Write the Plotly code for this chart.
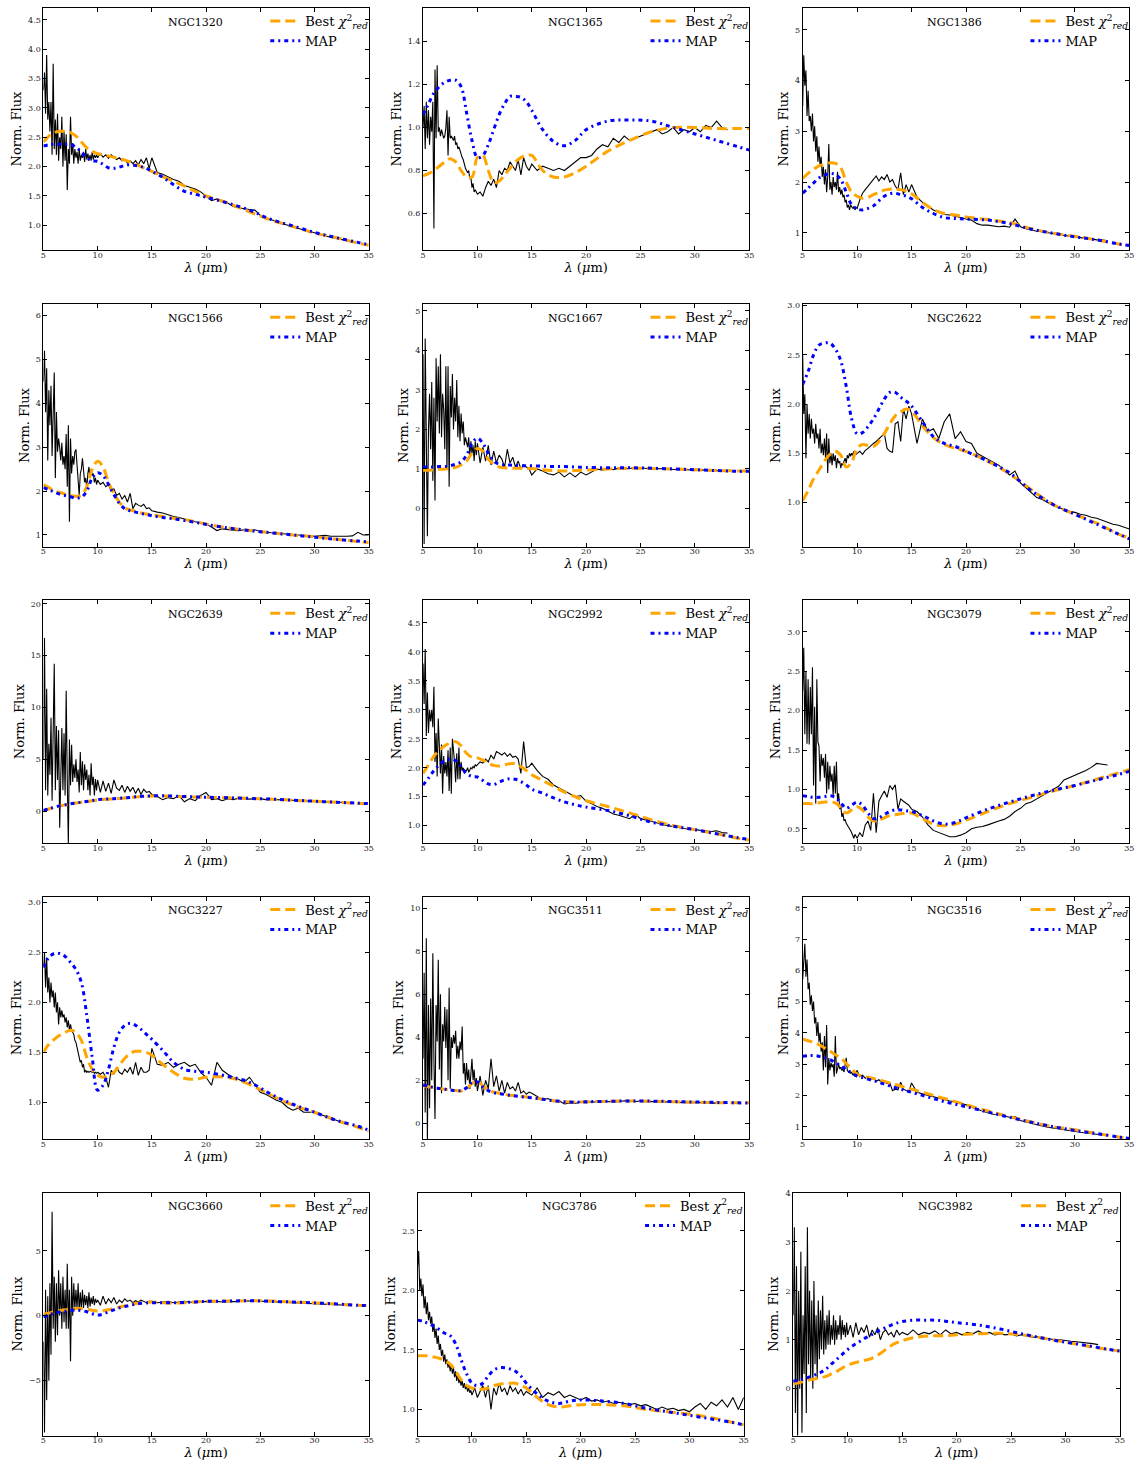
import plotly.graph_objects as go

# ---------------- data ----------------
WAVE = [5.0, 5.1, 5.2, 5.3, 5.4, 5.5, 5.6, 5.7, 5.8, 5.9,
        6.0, 6.1, 6.2, 6.3, 6.4, 6.5, 6.6, 6.7, 6.8, 6.9,
        7.0, 7.1, 7.2, 7.3, 7.4, 7.5, 7.6, 7.7, 7.8, 7.9,
        8.0, 8.1, 8.2, 8.3, 8.4, 8.5, 8.6, 8.7, 8.8, 8.9,
        9.0, 9.1, 9.2, 9.3, 9.4, 9.5, 9.6, 9.7, 9.8, 9.9,
        10.0, 10.25, 10.5, 10.75, 11.0, 11.25, 11.5, 11.75, 12.0, 12.25,
        12.5, 12.75, 13.0, 13.25, 13.5, 13.75, 14.0, 14.25, 14.5, 14.75,
        15.0, 15.5, 16.0, 16.5, 17.0, 17.5, 18.0, 18.5, 19.0, 19.5,
        20.0, 20.5, 21.0, 21.5, 22.0, 22.5, 23.0, 23.5, 24.0, 24.5,
        25.0, 25.5, 26.0, 26.5, 27.0, 27.5, 28.0, 28.5, 29.0, 29.5,
        30.0, 30.5, 31.0, 31.5, 32.0, 32.5, 33.0, 33.5, 34.0, 34.5, 35.0]

MODEL_WAVE = [5, 5.5, 6, 6.5, 7, 7.5, 8, 8.5, 9, 9.5,
              10, 10.5, 11, 11.5, 12, 12.5, 13, 13.5, 14, 14.5,
              15, 16, 17, 18, 19, 20, 22, 24, 26, 28,
              30, 32, 34, 35]

NAMES = ["NGC1320", "NGC1365", "NGC1386", "NGC1566", "NGC1667", "NGC2622",
         "NGC2639", "NGC2992", "NGC3079", "NGC3227", "NGC3511", "NGC3516",
         "NGC3660", "NGC3786", "NGC3982"]

FLUX_NGC1320 = [3.3, 3.6, 2.9, 3.9, 2.8, 3.1, 2.6, 3.1, 2.2, 3.75,
                2.3, 2.8, 2.2, 2.9, 2.1, 2.5, 2.3, 2.85, 2.0, 2.6,
                2.1, 2.55, 1.6, 2.3, 2.05, 2.85, 2.2, 2.4, 2.05, 2.3,
                2.15, 2.25, 2.05, 2.3, 2.1, 2.2, 2.15, 2.25, 2.08, 2.3,
                2.12, 2.22, 2.1, 2.2, 2.1, 2.25, 2.12, 2.2, 2.15, 2.2,
                2.15, 2.22, 2.16, 2.2, 2.14, 2.2, 2.16, 2.12, 2.15, 2.1,
                2.12, 2.06, 2.1, 2.05, 2.1, 2.03, 2.12, 2.05, 2.15, 1.97,
                2.15, 1.9, 1.87, 1.82, 1.78, 1.75, 1.68, 1.65, 1.62, 1.57,
                1.5, 1.42, 1.45, 1.4, 1.38, 1.32, 1.3, 1.28, 1.27, 1.26,
                1.17, 1.12, 1.1, 1.07, 1.03, 1.0, 0.97, 0.95, 0.92, 0.9,
                0.88, 0.85, 0.82, 0.8, 0.78, 0.75, 0.74]
BEST_NGC1320 = [2.42, 2.52, 2.58, 2.6, 2.6, 2.58, 2.52, 2.42, 2.32, 2.26,
                2.22, 2.2, 2.18, 2.16, 2.14, 2.11, 2.08, 2.04, 2.0, 1.96,
                1.92, 1.83, 1.75, 1.67, 1.58, 1.5, 1.38, 1.23, 1.09, 0.98,
                0.87, 0.79, 0.7, 0.66]
MAP_NGC1320 = [2.35, 2.37, 2.38, 2.38, 2.38, 2.38, 2.33, 2.25, 2.15, 2.1,
               2.09, 2.04, 1.98, 1.97, 1.99, 2.02, 2.03, 2.02, 2.0, 1.97,
               1.92, 1.82, 1.69, 1.58, 1.53, 1.48, 1.38, 1.26, 1.1, 0.99,
               0.88, 0.79, 0.71, 0.67]

FLUX_NGC1365 = [1.0, 1.1, 0.9, 1.12, 0.95, 1.08, 0.92, 1.05, 0.98, 1.12,
                0.53, 1.27, 0.95, 1.29, 0.98, 1.0, 0.96, 0.99, 0.97, 0.95,
                0.96, 1.0, 1.08, 0.87, 1.05, 0.95, 0.96, 0.95, 0.94, 0.96,
                0.92, 0.93, 0.9, 0.91, 0.89, 0.88, 0.86, 0.85, 0.82, 0.81,
                0.8, 0.79, 0.8, 0.76, 0.77, 0.72, 0.74, 0.7, 0.71, 0.7,
                0.69, 0.7, 0.68, 0.72, 0.75, 0.73, 0.76, 0.72, 0.8, 0.78,
                0.81, 0.8, 0.84, 0.82, 0.8, 0.85, 0.78, 0.86, 0.82, 0.8,
                0.83, 0.8, 0.82, 0.81, 0.8, 0.81, 0.8, 0.82, 0.84, 0.86,
                0.86, 0.87, 0.9, 0.92, 0.91, 0.95, 0.93, 0.96, 0.94, 0.95,
                0.96, 0.97, 0.98, 0.99, 0.97, 0.98, 1.0, 0.97, 0.99, 0.98,
                1.0, 0.98, 1.01, 1.0, 1.03, 1.0, 0.99]
BEST_NGC1365 = [0.775, 0.785, 0.8, 0.82, 0.84, 0.855, 0.84, 0.8, 0.77, 0.77,
                0.86, 0.87, 0.8, 0.745, 0.75, 0.78, 0.81, 0.84, 0.86, 0.87,
                0.87, 0.8, 0.77, 0.77, 0.79, 0.82, 0.89, 0.94, 0.98, 1.0,
                1.0, 0.995, 0.995, 0.995]
MAP_NGC1365 = [1.06, 1.11, 1.16, 1.19, 1.21, 1.22, 1.22, 1.19, 1.07, 0.94,
               0.86, 0.87, 0.92, 0.99, 1.06, 1.11, 1.145, 1.145, 1.14, 1.12,
               1.08, 0.99, 0.935, 0.915, 0.94, 0.99, 1.03, 1.035, 1.03, 1.0,
               0.97, 0.94, 0.91, 0.895]

FLUX_NGC1386 = [3.5, 4.5, 3.9, 4.2, 3.3, 3.8, 3.2, 3.3, 3.0, 3.35,
                2.8, 3.1, 2.6, 2.9, 2.4, 2.7, 2.3, 2.5, 2.1, 2.3,
                1.95, 2.25, 1.8, 2.1, 2.75, 1.85, 2.0, 1.75, 2.1, 1.9,
                2.0, 1.85, 2.2, 1.8, 1.9, 1.75, 1.85, 1.7, 1.75, 1.6,
                1.65, 1.5, 1.55, 1.45, 1.55, 1.5, 1.48, 1.52, 1.45, 1.5,
                1.48, 1.65, 1.78, 1.85, 1.92, 1.98, 2.05, 2.12, 2.02, 2.1,
                2.05, 2.15, 2.0, 2.05, 1.92, 1.85, 2.18, 1.75, 1.95, 1.8,
                1.95, 1.7, 1.6, 1.52, 1.45, 1.4, 1.36, 1.35, 1.33, 1.3,
                1.27, 1.25, 1.18, 1.15, 1.15, 1.14, 1.12, 1.13, 1.11, 1.27,
                1.12, 1.08, 1.05, 1.03, 1.02, 1.0, 0.98, 0.97, 0.95, 0.93,
                0.92, 0.9, 0.89, 0.88, 0.86, 0.86, 0.84]
BEST_NGC1386 = [2.07, 2.17, 2.25, 2.32, 2.35, 2.38, 2.37, 2.28, 2.0, 1.8,
                1.72, 1.68, 1.7, 1.75, 1.8, 1.84, 1.86, 1.86, 1.85, 1.82,
                1.77, 1.6, 1.46, 1.38, 1.35, 1.31, 1.26, 1.2, 1.08, 0.99,
                0.93, 0.86, 0.78, 0.75]
MAP_NGC1386 = [1.78, 1.88, 1.98, 2.08, 2.13, 2.17, 2.15, 2.05, 1.8, 1.55,
               1.47, 1.45, 1.48, 1.53, 1.63, 1.72, 1.77, 1.78, 1.75, 1.72,
               1.67, 1.5, 1.38, 1.3, 1.28, 1.27, 1.25, 1.18, 1.07, 0.99,
               0.92, 0.86, 0.78, 0.75]

FLUX_NGC1566 = [4.5, 5.2, 3.8, 4.8, 2.7, 4.3, 3.5, 4.4, 2.8, 4.1,
                4.7, 2.3, 3.8, 2.9, 3.2, 3.0, 2.7, 3.1, 2.6, 2.8,
                2.5, 3.3, 2.1, 3.5, 1.3, 3.2, 2.4, 2.8, 2.6, 2.9,
                2.95, 2.6, 2.3, 1.9, 2.4, 2.5, 2.75, 2.4, 2.2, 2.3,
                2.05, 2.4, 2.55, 2.3, 2.5, 2.35, 2.4, 2.2, 2.3, 2.15,
                2.25, 2.15, 2.2, 2.1, 2.15, 2.0, 2.05, 1.9, 1.95, 1.82,
                1.9, 1.75, 1.95, 1.6, 1.72, 1.68, 1.65, 1.7, 1.6, 1.62,
                1.55, 1.52, 1.5, 1.46, 1.42, 1.4, 1.36, 1.33, 1.3, 1.28,
                1.25, 1.18, 1.1, 1.14, 1.12, 1.11, 1.1, 1.12, 1.1, 1.12,
                1.08, 1.06, 1.05, 1.04, 1.03, 1.02, 1.0, 1.0, 0.99, 0.98,
                0.97, 0.98, 0.99, 0.97, 0.97, 0.96, 0.97, 0.98, 1.06, 1.0, 1.0]
BEST_NGC1566 = [2.15, 2.08, 2.0, 1.97, 1.93, 1.9, 1.88, 1.9, 2.1, 2.5,
                2.68, 2.55, 2.2, 1.95, 1.75, 1.62, 1.57, 1.54, 1.5, 1.48,
                1.46, 1.42, 1.38, 1.35, 1.3, 1.25, 1.16, 1.1, 1.05, 1.0,
                0.96, 0.9, 0.85, 0.83]
MAP_NGC1566 = [2.08, 2.03, 1.98, 1.93, 1.9, 1.87, 1.84, 1.86, 2.0, 2.3,
               2.42, 2.35, 2.15, 1.92, 1.72, 1.6, 1.55, 1.52, 1.49, 1.47,
               1.44, 1.4, 1.37, 1.33, 1.29, 1.24, 1.16, 1.1, 1.05, 1.0,
               0.95, 0.9, 0.86, 0.84]

FLUX_NGC1667 = [3.9, -0.9, 4.3, 0.5, -0.7, 2.0, 2.9, 1.5, 3.2, 0.7,
                2.8, 0.2, 3.8, 2.2, 3.6, 1.9, 3.9, 1.8, 2.9, 2.5,
                1.5, 3.6, 1.0, 3.6, 0.55, 3.1, 2.3, 3.4, 2.0, 2.8,
                2.2, 3.25, 1.8, 2.6, 1.7, 2.4, 1.9, 2.2, 1.6, 1.8,
                1.7, 1.55, 1.8, 1.3, 1.7, 1.4, 1.6, 1.2, 1.7, 1.35,
                1.65, 1.15, 1.55, 1.2, 1.6, 1.1, 1.45, 1.15, 1.35, 1.25,
                1.05, 1.5, 1.15, 1.3, 1.05, 1.2, 1.0, 1.1, 1.05, 1.0,
                0.85, 1.0, 0.95, 0.88, 0.85, 0.92, 0.8, 0.9, 0.8, 0.92,
                0.85, 0.92, 1.0, 0.97, 1.02, 0.98, 1.02, 1.0, 1.02, 1.03,
                1.03, 1.02, 1.0, 1.01, 1.0, 1.0, 0.99, 0.98, 0.98, 0.98,
                0.97, 0.97, 0.97, 0.96, 0.96, 0.95, 0.94]
BEST_NGC1667 = [0.97, 0.97, 0.98, 0.99, 1.0, 1.01, 1.04, 1.1, 1.2, 1.4,
                1.52, 1.45, 1.25, 1.12, 1.05, 1.03, 1.02, 1.02, 1.02, 1.01,
                1.01, 0.98, 0.96, 0.95, 0.96, 0.97, 1.0, 1.02, 1.01, 1.0,
                0.98, 0.96, 0.95, 0.95]
MAP_NGC1667 = [1.05, 1.05, 1.05, 1.06, 1.06, 1.08, 1.12, 1.18, 1.35, 1.65,
               1.78, 1.65, 1.4, 1.2, 1.12, 1.1, 1.1, 1.09, 1.08, 1.08,
               1.08, 1.07, 1.06, 1.06, 1.05, 1.04, 1.03, 1.03, 1.02, 1.0,
               0.98, 0.96, 0.94, 0.94]

FLUX_NGC2622 = [2.5, 1.9, 2.1, 1.45, 2.0, 1.7, 1.9, 1.65, 1.85, 1.7,
                1.75, 1.6, 1.8, 1.65, 1.7, 1.55, 1.75, 1.5, 1.6, 1.48,
                1.65, 1.45, 1.7, 1.3, 1.65, 1.4, 1.5, 1.38, 1.5, 1.42,
                1.48, 1.35, 1.45, 1.4, 1.42, 1.35, 1.4, 1.38, 1.42, 1.45,
                1.4, 1.48, 1.45, 1.5, 1.47, 1.5, 1.48, 1.52, 1.5, 1.49,
                1.5, 1.52, 1.49, 1.53, 1.55, 1.58, 1.6, 1.62, 1.65, 1.68,
                1.7, 1.55, 1.52, 1.51, 1.8, 1.82, 1.62, 1.95, 1.85, 1.98,
                1.9, 1.6, 1.85, 1.72, 1.75, 1.65, 1.82, 1.9, 1.65, 1.72,
                1.62, 1.6, 1.5, 1.47, 1.44, 1.41, 1.38, 1.33, 1.28, 1.32,
                1.2, 1.15, 1.1, 1.05, 1.03, 1.0, 0.97, 0.95, 0.93, 0.91,
                0.9, 0.88, 0.87, 0.85, 0.84, 0.82, 0.8, 0.78, 0.77, 0.75, 0.73]
BEST_NGC2622 = [1.02, 1.12, 1.24, 1.33, 1.42, 1.49, 1.52, 1.48, 1.36, 1.41,
                1.55, 1.59, 1.58, 1.57, 1.62, 1.7, 1.8, 1.88, 1.92, 1.95,
                1.93, 1.78, 1.66, 1.59, 1.55, 1.52, 1.42, 1.29, 1.13, 0.98,
                0.88, 0.79, 0.68, 0.64]
MAP_NGC2622 = [2.2, 2.33, 2.5, 2.6, 2.62, 2.62, 2.56, 2.44, 2.18, 1.85,
               1.7, 1.71, 1.77, 1.85, 1.95, 2.05, 2.12, 2.12, 2.07, 2.03,
               1.98, 1.82, 1.67, 1.6, 1.57, 1.52, 1.42, 1.3, 1.12, 0.98,
               0.88, 0.78, 0.68, 0.63]

FLUX_NGC2639 = [5.0, 16.7, 2.0, 11.8, 1.5, 6.5, 3.5, 9.0, 1.0, 8.0,
                14.2, 2.0, 8.2, 3.0, 7.8, -1.6, 4.5, 8.0, 2.0, 7.5,
                1.5, 11.6, 3.0, -3.2, 6.9, 2.5, 6.4, 2.8, 4.5, 3.2,
                5.0, 2.8, 4.0, 1.8, 5.7, 2.5, 4.8, 2.0, 4.5, 3.0,
                4.0, 2.0, 3.5, 1.5, 4.6, 2.5, 3.3, 1.5, 3.1, 2.0,
                3.0, 1.8, 2.9, 1.9, 2.7, 1.7, 3.0, 2.2, 2.0, 2.5,
                1.8, 2.4, 1.9, 2.3, 1.7, 2.2, 1.6, 2.1, 1.8, 1.9,
                1.6, 1.4, 1.1, 1.3, 1.2, 1.5, 0.9, 1.2, 1.0, 1.5,
                1.8, 1.1, 1.2, 1.0, 1.2, 1.1, 1.25, 1.2, 1.15, 1.2,
                1.2, 1.1, 1.15, 1.1, 1.1, 1.05, 1.05, 1.0, 1.0, 0.95,
                0.95, 0.9, 0.9, 0.88, 0.85, 0.85, 0.8]
BEST_NGC2639 = [0.0, 0.2, 0.35, 0.5, 0.6, 0.7, 0.78, 0.85, 0.92, 1.0,
                1.08, 1.12, 1.15, 1.18, 1.22, 1.26, 1.3, 1.35, 1.4, 1.43,
                1.45, 1.45, 1.42, 1.38, 1.35, 1.32, 1.28, 1.22, 1.15, 1.05,
                0.95, 0.85, 0.75, 0.72]
MAP_NGC2639 = [0.05, 0.22, 0.37, 0.5, 0.6, 0.7, 0.78, 0.85, 0.93, 1.02,
               1.1, 1.14, 1.17, 1.2, 1.24, 1.28, 1.32, 1.37, 1.42, 1.45,
               1.47, 1.47, 1.44, 1.4, 1.36, 1.33, 1.29, 1.22, 1.15, 1.05,
               0.95, 0.85, 0.76, 0.72]

FLUX_NGC2992 = [3.8, 3.1, 4.05, 2.55, 3.3, 2.6, 3.0, 2.8, 3.0, 2.7,
                3.4, 2.1, 2.6, 1.85, 2.85, 2.2, 1.9, 2.4, 1.55, 2.2,
                1.9, 2.1, 1.85, 2.3, 1.6, 2.35, 1.55, 2.5, 2.3, 2.1,
                1.75, 2.25, 1.8, 2.35, 1.8, 2.1, 1.95, 2.0, 1.9, 1.95,
                1.95, 2.0, 1.92, 1.98, 2.0, 1.98, 2.02, 2.0, 2.05, 2.03,
                2.05, 2.1, 2.08, 2.15, 2.1, 2.22, 2.15, 2.28, 2.25, 2.22,
                2.26, 2.2, 2.24, 2.18, 2.2, 2.15, 1.9, 2.45, 2.0, 2.02,
                2.08, 1.95, 1.85, 1.8, 1.7, 1.65, 1.6, 1.55, 1.5, 1.52,
                1.42, 1.38, 1.33, 1.3, 1.25, 1.2, 1.18, 1.15, 1.12, 1.2,
                1.12, 1.1, 1.07, 1.05, 1.02, 1.0, 0.98, 0.96, 0.95, 0.94,
                0.93, 0.93, 0.92, 0.9, 0.91, 0.88, 0.87]
BEST_NGC2992 = [1.9, 2.05, 2.2, 2.3, 2.38, 2.43, 2.45, 2.38, 2.25, 2.18,
                2.17, 2.13, 2.08, 2.04, 2.03, 2.05, 2.07, 2.07, 2.02, 1.95,
                1.88, 1.78, 1.68, 1.58, 1.5, 1.43, 1.33, 1.22, 1.1, 1.0,
                0.93, 0.86, 0.78, 0.75]
MAP_NGC2992 = [1.7, 1.82, 1.95, 2.05, 2.12, 2.15, 2.12, 2.02, 1.9, 1.85,
               1.84, 1.78, 1.72, 1.71, 1.75, 1.79, 1.81, 1.8, 1.76, 1.7,
               1.63, 1.56, 1.48, 1.41, 1.36, 1.32, 1.26, 1.17, 1.06, 0.99,
               0.93, 0.86, 0.79, 0.76]

FLUX_NGC3079 = [2.25, 2.8, 1.7, 2.5, 1.58, 2.4, 1.57, 2.3, 1.7, 2.55,
                1.05, 2.05, 0.82, 2.4, 1.6, 1.55, 1.1, 1.45, 1.3, 1.4,
                1.15, 1.45, 0.95, 1.35, 1.0, 1.3, 1.1, 1.2, 0.92, 1.3,
                0.95, 1.35, 0.85, 0.95, 0.75, 0.8, 0.65, 0.7, 0.6, 0.62,
                0.57, 0.55, 0.52, 0.5, 0.48, 0.45, 0.42, 0.38, 0.43, 0.4,
                0.38, 0.45, 0.4, 0.55, 0.6, 0.48, 0.95, 0.45, 0.85, 0.92,
                0.98, 0.9, 1.05, 1.0, 1.06, 0.75, 0.88, 0.85, 0.82, 0.8,
                0.75, 0.72, 0.65, 0.55, 0.48, 0.45, 0.43, 0.4, 0.4, 0.42,
                0.45, 0.5, 0.52, 0.53, 0.55, 0.58, 0.6, 0.62, 0.66, 0.72,
                0.76, 0.82, 0.84, 0.88, 0.92, 0.96, 1.0, 1.04, 1.12, 1.15,
                1.18, 1.2, 1.24, 1.28, 1.33, 1.32, 1.31]
BEST_NGC3079 = [0.82, 0.82, 0.82, 0.83, 0.84, 0.84, 0.83, 0.77, 0.7, 0.74,
                0.78, 0.74, 0.65, 0.6, 0.61, 0.64, 0.67, 0.68, 0.69, 0.7,
                0.7, 0.63, 0.56, 0.54, 0.56, 0.61, 0.72, 0.82, 0.9, 0.98,
                1.05, 1.13, 1.21, 1.25]
MAP_NGC3079 = [0.92, 0.91, 0.9, 0.9, 0.91, 0.92, 0.9, 0.83, 0.76, 0.8,
               0.84, 0.8, 0.7, 0.63, 0.64, 0.68, 0.72, 0.74, 0.74, 0.73,
               0.72, 0.67, 0.6, 0.56, 0.58, 0.64, 0.75, 0.84, 0.92, 0.99,
               1.05, 1.12, 1.19, 1.23]

FLUX_NGC3227 = [2.35, 2.5, 2.15, 2.45, 2.1, 2.25, 2.0, 2.2, 2.05, 2.12,
                1.95, 2.1, 1.9, 2.0, 1.78, 1.95, 1.85, 1.92, 1.85, 1.88,
                1.8, 1.85, 1.75, 1.82, 1.72, 1.78, 1.72, 1.7, 1.68, 1.62,
                1.6, 1.55, 1.5, 1.45, 1.4, 1.42, 1.35, 1.38, 1.3, 1.32,
                1.3, 1.31, 1.3, 1.31, 1.3, 1.3, 1.31, 1.29, 1.3, 1.29,
                1.3, 1.28, 1.3, 1.25, 1.15, 1.32, 1.28, 1.35, 1.3, 1.28,
                1.33, 1.3, 1.35, 1.28, 1.4, 1.27, 1.35, 1.3, 1.3, 1.32,
                1.54, 1.38, 1.37, 1.4, 1.35, 1.38, 1.4, 1.36, 1.38, 1.3,
                1.25, 1.17, 1.4, 1.32, 1.28, 1.25, 1.23, 1.2, 1.25, 1.18,
                1.1, 1.08, 1.05, 1.02, 1.0, 0.95, 0.92, 0.94, 0.9, 0.9,
                0.9, 0.88, 0.86, 0.84, 0.82, 0.8, 0.78]
BEST_NGC3227 = [1.5, 1.58, 1.63, 1.67, 1.7, 1.72, 1.7, 1.62, 1.45, 1.33,
                1.27, 1.25, 1.27, 1.3, 1.37, 1.44, 1.49, 1.51, 1.51, 1.5,
                1.47, 1.38, 1.3, 1.24, 1.23, 1.25, 1.25, 1.18, 1.07, 0.97,
                0.9, 0.82, 0.75, 0.71]
MAP_NGC3227 = [2.35, 2.45, 2.49, 2.49, 2.46, 2.4, 2.33, 2.2, 1.87, 1.45,
               1.12, 1.17, 1.33, 1.55, 1.7, 1.77, 1.79, 1.77, 1.73, 1.68,
               1.63, 1.52, 1.4, 1.33, 1.31, 1.3, 1.26, 1.2, 1.08, 0.98,
               0.9, 0.82, 0.76, 0.72]

FLUX_NGC3511 = [3.0, 7.0, 0.5, 8.6, -0.8, 5.5, 0.7, 5.8, 2.0, 7.9,
                3.0, 0.2, 5.5, 3.8, 7.6, 2.5, 6.0, 1.4, 4.6, 3.8,
                5.4, 3.5, 5.3, 2.0, 6.3, 1.6, 4.0, 3.5, 4.1, 3.7,
                4.3, 3.0, 3.6, 3.0, 3.8, 3.4, 4.5, 2.3, 2.8, 1.8,
                2.8, 2.0, 2.5, 1.6, 2.3, 3.0, 2.0, 2.5, 1.7, 2.1,
                1.5, 2.2, 1.3, 2.0, 1.6, 3.0, 1.7, 2.2, 1.5, 2.0,
                1.4, 1.9, 1.6, 1.7, 1.5, 1.9, 1.4, 1.5, 1.35, 1.45,
                1.4, 1.25, 1.1, 1.15, 1.0, 1.05, 0.9, 0.95, 0.92, 1.0,
                0.95, 1.0, 0.98, 1.05, 1.0, 1.02, 1.0, 1.05, 1.02, 1.0,
                1.05, 1.0, 1.02, 0.98, 1.0, 1.0, 0.98, 0.97, 0.96, 0.97,
                0.95, 0.96, 0.95, 0.93, 0.95, 0.94, 0.93]
BEST_NGC3511 = [1.75, 1.7, 1.65, 1.62, 1.58, 1.55, 1.52, 1.5, 1.6, 1.85,
                1.95, 1.75, 1.55, 1.45, 1.4, 1.35, 1.3, 1.28, 1.25, 1.22,
                1.2, 1.12, 1.05, 1.0, 0.98, 1.0, 1.02, 1.04, 1.02, 1.0,
                0.98, 0.96, 0.95, 0.95]
MAP_NGC3511 = [1.78, 1.72, 1.66, 1.62, 1.58, 1.55, 1.52, 1.52, 1.65, 1.9,
               1.92, 1.7, 1.52, 1.42, 1.38, 1.34, 1.3, 1.27, 1.24, 1.21,
               1.19, 1.12, 1.05, 1.0, 0.98, 1.0, 1.02, 1.04, 1.03, 1.01,
               0.99, 0.97, 0.95, 0.94]

FLUX_NGC3516 = [5.7, 6.2, 6.85, 5.8, 6.35, 5.4, 5.6, 4.9, 5.2, 4.7,
                5.0, 4.3, 4.5, 3.9, 4.35, 3.7, 4.0, 3.4, 3.7, 2.8,
                3.9, 2.9, 4.25, 2.35, 3.2, 2.8, 3.05, 2.9, 3.0, 2.6,
                3.9, 2.7, 2.9, 3.0, 2.85, 2.9, 2.8, 2.85, 2.75, 2.95,
                3.2, 2.8, 2.75, 2.8, 2.7, 2.75, 2.65, 2.7, 2.6, 2.75,
                2.8, 2.6, 2.65, 2.55, 2.6, 2.5, 2.55, 2.45, 2.5, 2.42,
                2.45, 2.38, 2.4, 2.15, 2.2, 2.18, 2.42, 2.2, 2.15, 2.12,
                2.4, 2.1, 2.05, 2.0, 1.95, 1.9, 1.85, 1.82, 1.8, 1.75,
                1.7, 1.62, 1.55, 1.5, 1.45, 1.4, 1.38, 1.33, 1.3, 1.32,
                1.2, 1.15, 1.1, 1.06, 1.02, 0.98, 0.95, 0.92, 0.9, 0.88,
                0.85, 0.82, 0.8, 0.78, 0.76, 0.74, 0.72]
BEST_NGC3516 = [3.8, 3.75, 3.7, 3.62, 3.52, 3.42, 3.3, 3.2, 3.02, 2.85,
                2.68, 2.62, 2.58, 2.54, 2.5, 2.45, 2.4, 2.35, 2.3, 2.25,
                2.2, 2.1, 2.0, 1.9, 1.8, 1.7, 1.5, 1.32, 1.15, 1.0,
                0.9, 0.78, 0.67, 0.63]
MAP_NGC3516 = [3.25, 3.27, 3.28, 3.25, 3.2, 3.15, 3.05, 2.95, 2.82, 2.72,
               2.62, 2.57, 2.52, 2.47, 2.42, 2.36, 2.3, 2.25, 2.2, 2.15,
               2.1, 2.0, 1.9, 1.8, 1.72, 1.64, 1.47, 1.3, 1.14, 1.0,
               0.88, 0.78, 0.67, 0.62]

FLUX_NGC3660 = [-2.0, -9.0, 2.0, -6.5, 1.5, -5.0, 2.5, -3.0, 8.0, -1.0,
                3.0, -2.0, 2.5, -1.5, 3.5, 0.0, 2.5, -1.0, 3.0, -0.5,
                2.0, -1.0, 4.0, -1.0, 2.0, -3.5, 3.0, 0.0, 2.5, 0.5,
                2.0, 0.5, 2.5, 0.3, 1.8, 0.5, 2.0, 0.6, 1.6, 0.8,
                1.5, 0.6, 1.8, 0.7, 1.4, 0.9, 1.5, 0.8, 1.3, 1.0,
                1.2, 0.8, 1.5, 0.9, 1.3, 1.0, 1.4, 0.9, 1.2, 1.0,
                1.3, 1.1, 1.2, 1.0, 1.15, 1.05, 1.2, 1.1, 1.0, 1.1,
                1.1, 1.0, 1.05, 1.1, 1.0, 1.05, 1.1, 1.05, 1.0, 1.05,
                1.1, 1.05, 1.1, 1.05, 1.1, 1.08, 1.1, 1.12, 1.1, 1.15,
                1.12, 1.1, 1.08, 1.05, 1.05, 1.0, 1.0, 0.98, 0.95, 0.95,
                0.92, 0.9, 0.88, 0.86, 0.85, 0.82, 0.8]
BEST_NGC3660 = [0.1, 0.2, 0.3, 0.38, 0.45, 0.5, 0.55, 0.55, 0.5, 0.42,
                0.35, 0.38, 0.45, 0.55, 0.65, 0.75, 0.85, 0.93, 1.0, 1.03,
                1.05, 1.0, 0.98, 1.0, 1.05, 1.1, 1.12, 1.15, 1.12, 1.05,
                0.98, 0.9, 0.8, 0.78]
MAP_NGC3660 = [-0.1, 0.05, 0.2, 0.28, 0.35, 0.4, 0.45, 0.4, 0.3, 0.15,
               0.05, 0.12, 0.3, 0.45, 0.6, 0.7, 0.8, 0.88, 0.95, 0.98,
               1.0, 1.0, 1.0, 1.02, 1.05, 1.1, 1.12, 1.15, 1.1, 1.05,
               0.98, 0.9, 0.8, 0.77]

FLUX_NGC3786 = [2.2, 2.33, 2.0, 2.1, 1.95, 2.05, 1.85, 1.95, 1.8, 1.9,
                1.75, 1.82, 1.72, 1.78, 1.65, 1.72, 1.6, 1.68, 1.55, 1.62,
                1.5, 1.55, 1.45, 1.5, 1.4, 1.46, 1.38, 1.42, 1.35, 1.4,
                1.32, 1.38, 1.3, 1.35, 1.27, 1.32, 1.24, 1.3, 1.22, 1.26,
                1.2, 1.24, 1.18, 1.22, 1.17, 1.2, 1.15, 1.18, 1.14, 1.16,
                1.12, 1.18, 1.1, 1.15, 1.2, 1.1, 1.2, 1.0, 1.18, 1.12,
                1.22, 1.15, 1.18, 1.12, 1.2, 1.15, 1.18, 1.13, 1.17, 1.12,
                1.15, 1.12, 1.18, 1.1, 1.14, 1.12, 1.15, 1.1, 1.12, 1.1,
                1.08, 1.1, 1.07, 1.08, 1.06, 1.07, 1.05, 1.06, 1.05, 1.04,
                1.05, 1.03, 1.04, 1.02, 1.0, 1.02, 1.0, 1.01, 0.99, 1.0,
                0.98, 1.02, 1.05, 1.0, 1.06, 1.03, 1.08, 1.02, 1.1, 1.0, 1.1]
BEST_NGC3786 = [1.45, 1.45, 1.45, 1.44, 1.43, 1.41, 1.38, 1.32, 1.25, 1.2,
                1.18, 1.17, 1.17, 1.18, 1.2, 1.21, 1.22, 1.22, 1.22, 1.2,
                1.18, 1.1, 1.04, 1.02, 1.03, 1.04, 1.04, 1.03, 1.0, 0.98,
                0.96, 0.93, 0.89, 0.87]
MAP_NGC3786 = [1.75, 1.74, 1.72, 1.7, 1.67, 1.64, 1.62, 1.55, 1.42, 1.3,
               1.22, 1.2, 1.22, 1.28, 1.33, 1.35, 1.35, 1.34, 1.32, 1.28,
               1.22, 1.13, 1.07, 1.05, 1.07, 1.08, 1.07, 1.05, 1.01, 0.98,
               0.95, 0.92, 0.89, 0.87]

FLUX_NGC3982 = [1.5, 3.3, -0.5, 2.5, -1.0, 2.0, 0.0, 2.8, -0.9, 1.5,
                0.3, 2.5, -0.5, 3.3, 0.5, 2.0, 0.2, 1.8, 0.0, 2.2,
                0.5, 1.5, 0.2, 1.8, 0.6, 1.6, 0.8, 1.9, 0.7, 1.4,
                0.8, 1.5, 0.9, 1.6, 0.9, 1.3, 1.0, 1.5, 0.9, 1.4,
                1.0, 1.3, 1.1, 1.5, 1.0, 1.4, 1.1, 1.3, 1.05, 1.35,
                1.1, 1.3, 1.05, 1.35, 1.1, 1.25, 1.15, 1.3, 1.05, 1.2,
                1.1, 1.25, 1.0, 1.15, 1.2, 1.1, 1.15, 1.05, 1.2, 1.1,
                1.15, 1.1, 1.2, 1.1, 1.15, 1.12, 1.18, 1.1, 1.2, 1.12,
                1.15, 1.1, 1.15, 1.12, 1.18, 1.12, 1.15, 1.1, 1.12, 1.1,
                1.12, 1.08, 1.1, 1.08, 1.05, 1.06, 1.03, 1.02, 1.0, 1.0,
                0.98, 0.97, 0.96, 0.95, 0.93, 0.92, 0.9]
BEST_NGC3982 = [0.1, 0.12, 0.15, 0.18, 0.2, 0.22, 0.25, 0.3, 0.35, 0.42,
                0.48, 0.52, 0.55, 0.58, 0.6, 0.65, 0.72, 0.8, 0.88, 0.94,
                0.98, 1.04, 1.07, 1.08, 1.08, 1.1, 1.12, 1.13, 1.1, 1.03,
                0.95, 0.87, 0.8, 0.77]
MAP_NGC3982 = [0.15, 0.17, 0.2, 0.24, 0.28, 0.33, 0.4, 0.5, 0.6, 0.7,
               0.8, 0.88, 0.95, 1.02, 1.08, 1.14, 1.2, 1.25, 1.3, 1.34,
               1.37, 1.4, 1.4, 1.4, 1.38, 1.35, 1.3, 1.22, 1.12, 1.03,
               0.95, 0.88, 0.8, 0.77]

FLUXES = [FLUX_NGC1320, FLUX_NGC1365, FLUX_NGC1386, FLUX_NGC1566, FLUX_NGC1667,
          FLUX_NGC2622, FLUX_NGC2639, FLUX_NGC2992, FLUX_NGC3079, FLUX_NGC3227,
          FLUX_NGC3511, FLUX_NGC3516, FLUX_NGC3660, FLUX_NGC3786, FLUX_NGC3982]
BESTS = [BEST_NGC1320, BEST_NGC1365, BEST_NGC1386, BEST_NGC1566, BEST_NGC1667,
         BEST_NGC2622, BEST_NGC2639, BEST_NGC2992, BEST_NGC3079, BEST_NGC3227,
         BEST_NGC3511, BEST_NGC3516, BEST_NGC3660, BEST_NGC3786, BEST_NGC3982]
MAPS = [MAP_NGC1320, MAP_NGC1365, MAP_NGC1386, MAP_NGC1566, MAP_NGC1667,
        MAP_NGC2622, MAP_NGC2639, MAP_NGC2992, MAP_NGC3079, MAP_NGC3227,
        MAP_NGC3511, MAP_NGC3516, MAP_NGC3660, MAP_NGC3786, MAP_NGC3982]

X_TICKS = [5, 10, 15, 20, 25, 30, 35]

# y axis settings per panel: range, tick0, dtick, format
Y_RANGES = [[0.58, 4.70], [0.43, 1.556], [0.66, 5.43], [0.73, 6.26], [-0.97, 5.17],
            [0.55, 3.015], [-3.08, 20.32], [0.70, 4.89], [0.32, 3.40], [0.63, 3.06],
            [-0.74, 10.54], [0.60, 8.36], [-9.23, 9.46], [0.78, 2.82], [-0.96, 4.005]]
Y_TICK0 = [1.0, 0.6, 1, 1, 0, 1.0, 0, 1.0, 0.5, 1.0, 0, 1, -5, 1.0, 0]
Y_DTICK = [0.5, 0.2, 1, 1, 1, 0.5, 5, 0.5, 0.5, 0.5, 2, 1, 5, 0.5, 1]
Y_FMT = [".1f", ".1f", "d", "d", "d", ".1f", "d", ".1f", ".1f", ".1f", "d", "d", "d", ".1f", "d"]

# ---------------- layout geometry (pixels) ----------------
W, H = 1143, 1468
ROW_Y = [(4, 246.7), (301, 544.3), (598, 841.3), (895, 1138.3), (1192, 1435.5)]
COL_X = [(40.7, 368.3), (423, 751.5), (805.3, 1134.3)]
COL_X_LAST = [(40.7, 368.3), (417.5, 746), (795.8, 1124.8)]

SERIF = "DejaVu Serif"
ORANGE = "#ffa500"
BLUE = "#0000ff"

fig = go.Figure()
layout = dict(width=W, height=H, margin=dict(l=0, r=0, t=0, b=0),
              paper_bgcolor="white", plot_bgcolor="white",
              font=dict(family=SERIF, color="black"), annotations=[])

for i in range(15):
    r, c = divmod(i, 3)
    k = i + 1
    sfx = "" if k == 1 else str(k)
    xa, ya = "x" + sfx, "y" + sfx
    lg = "legend" + sfx
    x0, x1 = (COL_X_LAST if r == 4 else COL_X)[c]
    y0, y1 = ROW_Y[r]

    flux = FLUXES[i]
    fig.add_trace(go.Scatter(x=WAVE[:len(flux)], y=flux, mode="lines",
                             line=dict(color="black", width=1.1),
                             showlegend=False, xaxis=xa, yaxis=ya, hoverinfo="skip"))
    fig.add_trace(go.Scatter(x=MODEL_WAVE, y=BESTS[i], mode="lines",
                             name="Best <i>χ</i><sup>2</sup><sub><i>red</i></sub>",
                             line=dict(color=ORANGE, width=3, dash="10px,5px",
                                       shape="spline", smoothing=1.0),
                             xaxis=xa, yaxis=ya, legend=lg))
    fig.add_trace(go.Scatter(x=MODEL_WAVE, y=MAPS[i], mode="lines",
                             name="MAP",
                             line=dict(color=BLUE, width=3, dash="4px,4px,2px,4px",
                                       shape="spline", smoothing=1.0),
                             xaxis=xa, yaxis=ya, legend=lg))

    common = dict(showline=True, linecolor="black", linewidth=1, mirror="ticks",
                  ticks="inside", ticklen=4, tickwidth=1, tickcolor="black",
                  showgrid=False, zeroline=False,
                  tickfont=dict(family=SERIF, size=8, color="#222"))
    layout["xaxis" + sfx] = dict(common, domain=[x0 / W, x1 / W], anchor=ya,
                                 range=[5, 35], tickmode="array", tickvals=X_TICKS,
                                 ticklabelstandoff=-3,
                                 title=dict(text="<i>λ</i> (<i>μ</i>m)",
                                            font=dict(family=SERIF, size=13),
                                            standoff=0))
    layout["yaxis" + sfx] = dict(common, domain=[1 - y1 / H, 1 - y0 / H], anchor=xa,
                                 range=Y_RANGES[i], tick0=Y_TICK0[i], dtick=Y_DTICK[i],
                                 tickformat=Y_FMT[i],
                                 title=dict(text="Norm. Flux",
                                            font=dict(family=SERIF, size=13),
                                            standoff=3))
    wpx = x1 - x0
    layout[lg] = dict(x=(x0 + 0.682 * wpx) / W, y=1 - (y0 - 2) / H,
                      xanchor="left", yanchor="top",
                      bgcolor="rgba(0,0,0,0)", borderwidth=0,
                      font=dict(family=SERIF, size=13, color="black"),
                      tracegroupgap=0)
    layout["annotations"].append(dict(text=NAMES[i], xref=xa + " domain", yref=ya + " domain",
                                      x=0.466, y=0.942, xanchor="center", yanchor="middle",
                                      showarrow=False,
                                      font=dict(family=SERIF, size=11, color="black")))

fig.update_layout(**layout)
fig.write_html("out.html")
